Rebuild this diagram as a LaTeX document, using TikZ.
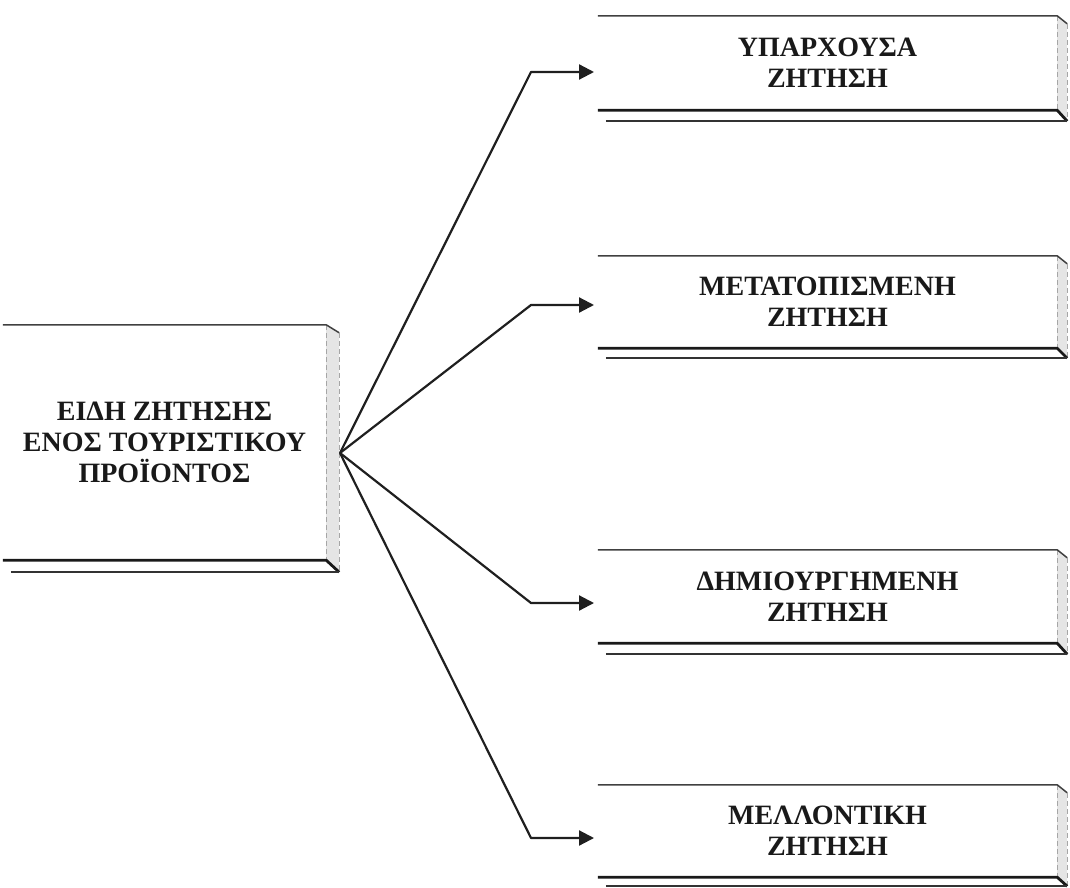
\documentclass[tikz,border=0pt]{standalone}
\usepackage{fontspec}
\setmainfont{Liberation Serif}
\usetikzlibrary{arrows.meta,calc}
\begin{document}
\begin{tikzpicture}[x=1pt,y=-1pt,
  boxtext/.style={inner sep=0pt, align=center, font=\bfseries\fontsize{28}{31}\selectfont, text=black!90},
  sideface/.style={fill=black!10, draw=none},
  topedge/.style={draw=black!75, line width=1.5pt},
  sideedge/.style={draw=black!35, line width=1.2pt, dash pattern=on 5pt off 3pt},
  frontbottom/.style={draw=black!90, line width=2.8pt},
  loweredge/.style={draw=black!80, line width=1.6pt},
  conn/.style={draw=black!88, line width=2.2pt, line join=round, -{Triangle[length=15pt,width=15pt]}}
]
\useasboundingbox (0,0) rectangle (1070,888);

% left box
\node[boxtext, minimum width=323pt, minimum height=235pt] (src) at (164.5,442.5)
  {ΕΙΔΗ ΖΗΤΗΣΗΣ\\ΕΝΟΣ ΤΟΥΡΙΣΤΙΚΟΥ\\ΠΡΟΪΟΝΤΟΣ};
% right boxes
\node[boxtext, minimum width=459pt, minimum height=94pt] (b1) at (827.5,63) {ΥΠΑΡΧΟΥΣΑ\\ΖΗΤΗΣΗ};
\node[boxtext, minimum width=459pt, minimum height=92pt] (b2) at (827.5,302) {ΜΕΤΑΤΟΠΙΣΜΕΝΗ\\ΖΗΤΗΣΗ};
\node[boxtext, minimum width=459pt, minimum height=93pt] (b3) at (827.5,596.5) {ΔΗΜΙΟΥΡΓΗΜΕΝΗ\\ΖΗΤΗΣΗ};
\node[boxtext, minimum width=459pt, minimum height=92pt] (b4) at (827.5,831) {ΜΕΛΛΟΝΤΙΚΗ\\ΖΗΤΗΣΗ};

% bevel drawing
\foreach \n/\dx/\dy in {src/13/12, b1/10/11, b2/10/10, b3/10/11, b4/10/9} {
  \fill[sideface] (\n.north east) -- ++(\dx,8) -- ($(\n.south east)+(\dx,\dy)$) -- (\n.south east) -- cycle;
  \draw[sideedge] (\n.north east) -- (\n.south east);
  \draw[sideedge] ($(\n.north east)+(\dx,8)$) -- ($(\n.south east)+(\dx,\dy)$);
  \draw[topedge] (\n.north west) -- (\n.north east) -- ++(\dx,8);
  \draw[frontbottom] (\n.south west) -- (\n.south east) -- ++(\dx,\dy);
  \draw[loweredge] ($(\n.south west)+(8,\dy)$) -- ($(\n.south east)+(\dx,\dy)$);
}

% connectors
\coordinate (o) at (340,453);
\coordinate (k1) at (531,72);  \coordinate (t1) at (594,72);
\coordinate (k2) at (531,305); \coordinate (t2) at (594,305);
\coordinate (k3) at (531,603); \coordinate (t3) at (594,603);
\coordinate (k4) at (531,838); \coordinate (t4) at (594,838);
\draw[conn] (o) -- (k1) -- (t1);
\draw[conn] (o) -- (k2) -- (t2);
\draw[conn] (o) -- (k3) -- (t3);
\draw[conn] (o) -- (k4) -- (t4);
\end{tikzpicture}
\end{document}
